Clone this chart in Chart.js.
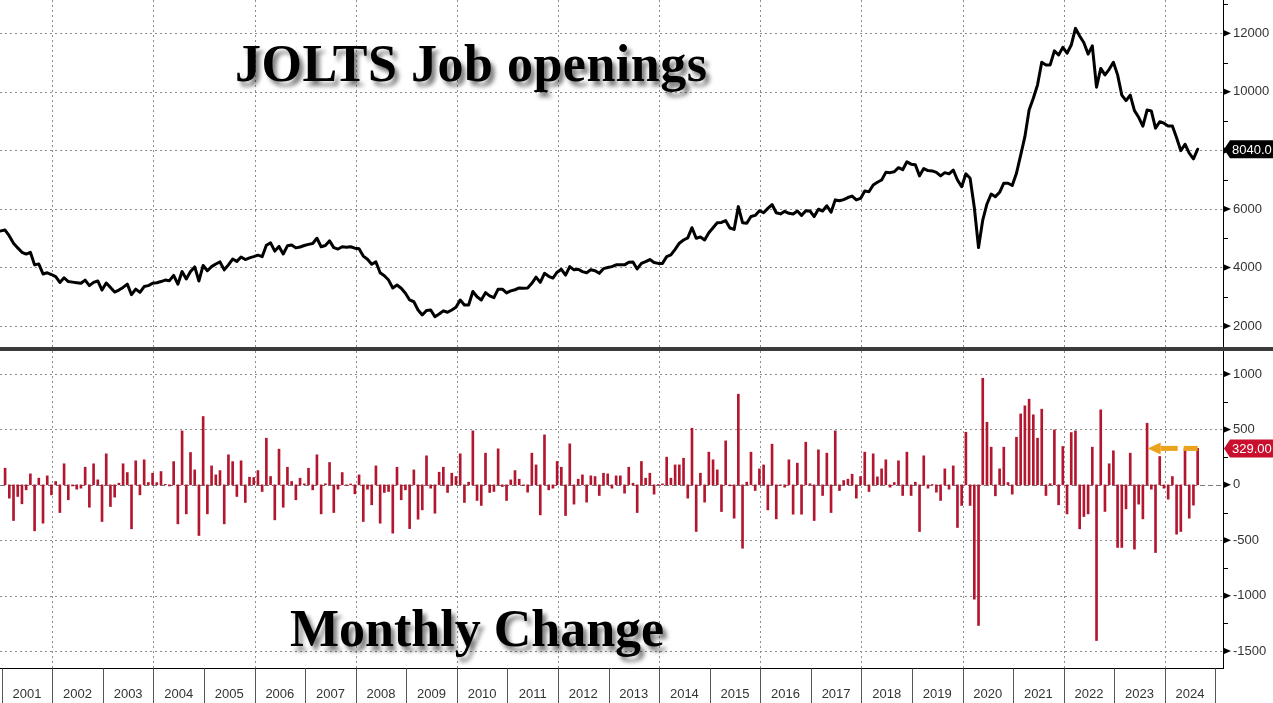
<!DOCTYPE html>
<html>
<head>
<meta charset="utf-8">
<script src="https://cdn.jsdelivr.net/npm/chart.js@4.4.1/dist/chart.umd.min.js"></script>
<style>
  html, body { margin: 0; padding: 0; background: #fff; }
  #wrap { position: relative; width: 1273px; height: 703px; overflow: hidden; }
  canvas { position: absolute; left: 0; }
  #topChart { top: 0; }
  #bottomChart { top: 351px; }
  .sep { position: absolute; left: 0; top: 347px; width: 1273px; height: 4px; background: #3b3b3b; }
  .title {
    position: absolute; white-space: nowrap; color: #000;
    font-family: "Liberation Serif", "Times New Roman", serif; font-weight: bold;
    font-size: 52px; line-height: 52px;
    text-shadow: 4px 5px 4px rgba(0, 0, 0, 0.5);
  }
</style>
</head>
<body>
<div id="wrap">
  <canvas id="topChart" width="1273" height="347"></canvas>
  <div class="sep"></div>
  <canvas id="bottomChart" width="1273" height="352"></canvas>
  <div class="title" style="left:235px; top:38px; letter-spacing:0.5px;">JOLTS Job openings</div>
  <div class="title" style="left:290px; top:603px;">Monthly Change</div>
</div>
<script>
// JOLTS job openings, thousands, Dec 2000 .. Aug 2024
const openings = [
  5250,
  5280, 5080, 4830, 4670, 4520, 4460, 4520, 4090, 4120, 3780, 3820, 3760,   // 2001
  3690, 3490, 3650, 3520, 3500, 3480, 3460, 3570, 3380, 3490, 3540, 3230,   // 2002
  3470, 3320, 3160, 3230, 3320, 3430, 3070, 3260, 3150, 3350, 3380, 3460,   // 2003
  3480, 3520, 3570, 3550, 3730, 3430, 3860, 3610, 3860, 4020, 3540, 4070,   // 2004
  3890, 4030, 4120, 4190, 3920, 4090, 4290, 4210, 4360, 4270, 4330, 4370,   // 2005
  4420, 4370, 4760, 4840, 4560, 4720, 4460, 4740, 4770, 4670, 4700, 4750,   // 2006
  4790, 4820, 5000, 4710, 4750, 4910, 4680, 4630, 4710, 4690, 4710, 4660,   // 2007
  4640, 4390, 4280, 4110, 4190, 3820, 3720, 3570, 3300, 3400, 3290, 3120,   // 2008
  2890, 2830, 2550, 2380, 2530, 2550, 2320, 2410, 2520, 2470, 2550, 2640,   // 2009
  2890, 2720, 2720, 3180, 3000, 2890, 3140, 3030, 2970, 3260, 3260, 3130,   // 2010
  3200, 3240, 3300, 3290, 3300, 3460, 3670, 3490, 3800, 3700, 3640, 3840,   // 2011
  3940, 3740, 4030, 3920, 3940, 3860, 3820, 3920, 3890, 3800, 3960, 4000,   // 2012
  4030, 4090, 4090, 4090, 4180, 4190, 3950, 4140, 4200, 4270, 4170, 4140,   // 2013
  4140, 4370, 4430, 4620, 4830, 4940, 5010, 5360, 5000, 5040, 4940, 5190,   // 2014
  5360, 5530, 5540, 5600, 5350, 5300, 6080, 5530, 5510, 5740, 5780, 5940,   // 2015
  5870, 6020, 6150, 5870, 5830, 5920, 5850, 5830, 5930, 5780, 5940, 5930,   // 2016
  5740, 5990, 5930, 6110, 5890, 6310, 6280, 6320, 6390, 6440, 6310, 6360,   // 2017
  6610, 6590, 6820, 6910, 6990, 7250, 7240, 7270, 7410, 7340, 7610, 7530,   // 2018
  7510, 7130, 7380, 7310, 7300, 7250, 7130, 7240, 7200, 7330, 6990, 6760,   // 2019
  7200, 7050, 6050, 4680, 5620, 6170, 6510, 6420, 6570, 6880, 6880, 6800,   // 2020
  7220, 7840, 8470, 9380, 9780, 10240, 11010, 10920, 10920, 11400, 11260, 11520, // 2021
  11320, 11600, 12170, 11910, 11680, 11290, 11570, 10160, 10800, 10580, 10770, 11010, // 2022
  10580, 9890, 9700, 9890, 9360, 9130, 8830, 9380, 9350, 8760, 8980, 8930,  // 2023
  8830, 8830, 8430, 7990, 8210, 7910, 7710, 8040                            // 2024
];

// monthly change, thousands, Jan 2001 .. Aug 2024
const changes = [
  150, -120, -322, -105, -171, -45, 99, -415, 60, -346, 81, -90,        // 2001
  30, -250, 190, -135, -10, -39, -30, 159, -202, 190, 45, -331,         // 2002
  280, -196, -111, 15, 190, 111, -397, 217, -90, 226, 21, 105,          // 2003
  20, 120, 5, -10, 210, -352, 487, -262, 292, 135, -457, 617,           // 2004
  -262, 171, 90, 129, -352, 271, 210, -105, 217, -159, 69, 66,          // 2005
  129, -60, 421, 75, -316, 322, -202, 159, 30, -135, 60, 9,             // 2006
  150, -45, 271, -262, 10, 202, -250, -39, 111, -5, 8, -81,             // 2007
  90, -331, -39, -180, 171, -346, -69, -60, -436, 159, -135, -45,       // 2008
  -395, 135, -310, -226, 262, -30, -256, 114, 159, -69, 105, 75,        // 2009
  280, -159, 24, 487, -141, -186, 286, -69, -60, 325, -15, -141,        // 2010
  45, 129, 51, -5, -66, 286, 180, -271, 451, -45, -30, 211,             // 2011
  159, -277, 370, -174, 51, 90, -156, 81, 75, -96, 105, 99,             // 2012
  -30, 81, 81, -75, 159, 15, -250, 211, 60, 105, -84, 3,                // 2013
  9, 250, 60, 180, 180, 240, -120, 511, -421, 105, -156, 295,           // 2014
  226, 135, -241, 397, -9, -301, 818, -572, 24, 295, -51, 144,          // 2015
  180, -226, 367, -307, -5, -21, 226, -265, 196, -265, 385, 10,         // 2016
  -322, 316, -96, 286, -250, 487, -51, 39, 51, 96, -120, 75,            // 2017
  295, -60, 280, 72, 144, 226, -21, 21, 217, -96, 295, -96,             // 2018
  24, -421, 262, -30, 3, -66, -141, 144, -39, 171, -385, -186,          // 2019
  475, -186, -1032, -1269, 962, 565, 340, -99, 144, 340, 21, -84,       // 2020
  430, 640, 713, 773, 632, 421, 683, -96, 10, 496, -180, 346,           // 2021
  -262, 472, 487, -397, -286, -262, 340, -1405, 677, -240, 190, 307,    // 2022
  -565, -565, -217, 286, -580, -174, -307, 556, -39, -611, 256, -30,    // 2023
  -129, 75, -445, -421, 325, -301, -183, 329                            // 2024
];

const yearLabels = ['2001', '2002', '2003', '2004', '2005', '2006', '2007', '2008', '2009', '2010', '2011', '2012',
  '2013', '2014', '2015', '2016', '2017', '2018', '2019', '2020', '2021', '2022', '2023', '2024'];
const gridYears = [2002, 2004, 2006, 2008, 2010, 2012, 2014, 2016, 2018, 2020, 2022, 2024];
const topTicks = [2000, 4000, 6000, 8000, 10000, 12000];
const topMinorTicks = [3000, 5000, 7000, 9000, 11000, 13000];
const bottomTicks = [-1500, -1000, -500, 0, 500, 1000];
const bottomMinorTicks = [-1250, -750, -250, 250, 750];

// x position of month n counted from Dec 2000
function monthPos(n) {
  return 2000 + (11 + n + 0.8) / 12;
}

const xMin = 2000.966, xMax = 2025.151;
const gridColor = '#8c8c8c';
const labelFont = '13px "Liberation Sans", Arial, sans-serif';

function yAxisOptions(min, max, majors, minors) {
  return {
    position: 'right',
    min: min, max: max,
    afterFit: (scale) => {
      scale.width = 50;
      // no extra room for the end labels, the panel fills the canvas
      scale.paddingTop = 0;
      scale.paddingBottom = 0;
    },
    afterBuildTicks: (scale) => {
      scale.ticks = majors.concat(minors).sort((a, b) => a - b).map(v => ({ value: v }));
    },
    grid: { display: false, drawTicks: false },
    border: { display: true, color: '#000', width: 1 },
    ticks: {
      padding: 10,
      color: '#333',
      font: { family: '"Liberation Sans", Arial, sans-serif', size: 13 },
      callback: (v) => majors.includes(v) ? String(v) : ''
    }
  };
}

function drawVGrid(chart) {
  const { ctx, chartArea } = chart;
  const xs = chart.scales.x;
  ctx.save();
  ctx.strokeStyle = gridColor;
  ctx.lineWidth = 1;
  ctx.setLineDash([2, 3]);
  gridYears.forEach(yr => {
    const x = Math.round(xs.getPixelForValue(yr)) + 0.5;
    ctx.beginPath();
    ctx.moveTo(x, chartArea.top);
    ctx.lineTo(x, chartArea.bottom);
    ctx.stroke();
  });
  ctx.restore();
}

function drawHGrid(chart, values, zeroDashed) {
  const { ctx, chartArea } = chart;
  const ys = chart.scales.y;
  ctx.save();
  ctx.lineWidth = 1;
  values.forEach(v => {
    const y = Math.round(ys.getPixelForValue(v)) + 0.5;
    if (zeroDashed && v === 0) {
      ctx.strokeStyle = '#777';
      ctx.setLineDash([5, 3]);
    } else {
      ctx.strokeStyle = gridColor;
      ctx.setLineDash([2, 3]);
    }
    ctx.beginPath();
    ctx.moveTo(chartArea.left, y);
    ctx.lineTo(chartArea.right, y);
    ctx.stroke();
  });
  ctx.restore();
}

function drawAxisMarks(chart, majors, minors) {
  const { ctx } = chart;
  const ys = chart.scales.y;
  const ax = chart.chartArea.right;
  ctx.save();
  ctx.fillStyle = '#000';
  majors.forEach(v => {
    const y = ys.getPixelForValue(v);
    ctx.beginPath();
    ctx.moveTo(ax, y - 3.5);
    ctx.lineTo(ax + 8, y);
    ctx.lineTo(ax, y + 3.5);
    ctx.closePath();
    ctx.fill();
  });
  minors.forEach(v => {
    const y = Math.round(ys.getPixelForValue(v));
    ctx.fillRect(ax, y, 5, 1);
  });
  ctx.restore();
}

function drawValueTag(chart, value, text, color) {
  const { ctx } = chart;
  const y = chart.scales.y.getPixelForValue(value);
  const ax = chart.chartArea.right;
  ctx.save();
  ctx.fillStyle = color;
  ctx.beginPath();
  ctx.moveTo(ax + 1, y);
  ctx.lineTo(ax + 7, y - 9);
  ctx.lineTo(chart.width, y - 9);
  ctx.lineTo(chart.width, y + 9);
  ctx.lineTo(ax + 7, y + 9);
  ctx.closePath();
  ctx.fill();
  ctx.fillStyle = '#fff';
  ctx.font = labelFont;
  ctx.textBaseline = 'middle';
  ctx.textAlign = 'left';
  ctx.fillText(text, ax + 9, y + 1);
  ctx.restore();
}

const lastOpen = openings[openings.length - 1];
const lastChange = changes[changes.length - 1];

// top panel: job openings line
new Chart(document.getElementById('topChart').getContext('2d'), {
  type: 'line',
  data: {
    datasets: [{
      data: openings.map((v, n) => ({ x: monthPos(n), y: v })),
      borderColor: '#000',
      borderWidth: 3,
      borderJoinStyle: 'round',
      borderCapStyle: 'round',
      pointRadius: 0,
      tension: 0,
      fill: false
    }]
  },
  options: {
    responsive: false,
    animation: false,
    layout: { padding: 0, autoPadding: false },
    plugins: { legend: { display: false }, tooltip: { enabled: false } },
    scales: {
      x: { type: 'linear', min: xMin, max: xMax, offset: false, display: false },
      y: yAxisOptions(1284, 13138, topTicks, topMinorTicks)
    }
  },
  plugins: [{
    id: 'topDecor',
    beforeDatasetsDraw(chart) {
      drawVGrid(chart);
      drawHGrid(chart, topTicks, false);
    },
    afterDraw(chart) {
      drawAxisMarks(chart, topTicks, topMinorTicks);
      drawValueTag(chart, lastOpen, lastOpen.toFixed(1), '#000');
    }
  }]
});

// bottom panel: monthly change bars
new Chart(document.getElementById('bottomChart').getContext('2d'), {
  type: 'bar',
  data: {
    datasets: [{
      data: changes.map((v, n) => ({ x: monthPos(n + 1), y: v })),
      backgroundColor: '#b3172f',
      barThickness: 2
    }]
  },
  options: {
    responsive: false,
    animation: false,
    layout: { padding: { left: 0, right: 0, top: 0, bottom: 35 }, autoPadding: false },
    plugins: { legend: { display: false }, tooltip: { enabled: false } },
    scales: {
      x: { type: 'linear', min: xMin, max: xMax, offset: false, display: false },
      y: yAxisOptions(-1653, 1208, bottomTicks, bottomMinorTicks)
    }
  },
  plugins: [{
    id: 'bottomDecor',
    beforeDatasetsDraw(chart) {
      drawVGrid(chart);
      drawHGrid(chart, bottomTicks, true);
    },
    afterDraw(chart) {
      const { ctx, chartArea } = chart;
      const xs = chart.scales.x;
      const ys = chart.scales.y;
      drawAxisMarks(chart, bottomTicks, bottomMinorTicks);

      // year band under the panel
      ctx.save();
      const base = Math.round(chartArea.bottom) + 0.5;
      ctx.strokeStyle = '#000';
      ctx.lineWidth = 1;
      ctx.beginPath();
      ctx.moveTo(0, base);
      ctx.lineTo(chartArea.right, base);
      ctx.stroke();
      ctx.strokeStyle = '#555';
      for (let yr = 2001; yr <= 2025; yr++) {
        const x = Math.round(xs.getPixelForValue(yr)) + 0.5;
        ctx.beginPath();
        ctx.moveTo(x, base);
        ctx.lineTo(x, chart.height);
        ctx.stroke();
      }
      ctx.fillStyle = '#333';
      ctx.font = labelFont;
      ctx.textAlign = 'center';
      ctx.textBaseline = 'middle';
      yearLabels.forEach(lbl => {
        const yr = parseInt(lbl, 10);
        ctx.fillText(lbl, xs.getPixelForValue(yr + 0.5), base + 26);
      });

      // orange arrow pointing at the latest change
      const xl = xs.getPixelForValue(monthPos(changes.length));
      const ya = ys.getPixelForValue(lastChange);
      ctx.fillStyle = '#eba21c';
      ctx.beginPath();
      ctx.moveTo(xl - 50, ya);
      ctx.lineTo(xl - 37, ya - 6);
      ctx.lineTo(xl - 37, ya + 6);
      ctx.closePath();
      ctx.fill();
      ctx.fillRect(xl - 37, ya - 2.5, 17, 5);
      ctx.fillRect(xl - 14, ya - 2.5, 14, 5);
      ctx.restore();

      drawValueTag(chart, lastChange, lastChange.toFixed(2), '#c8102e');
    }
  }]
});
</script>
</body>
</html>
